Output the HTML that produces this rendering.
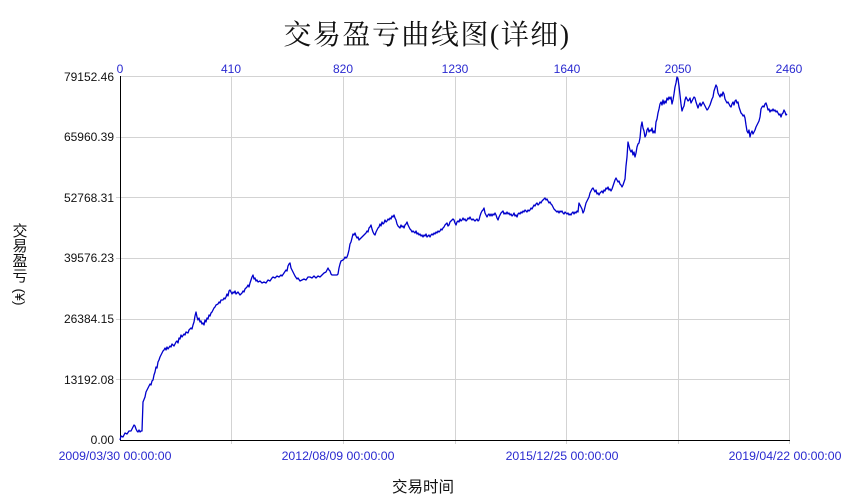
<!DOCTYPE html>
<html><head><meta charset="utf-8"><style>
html,body{margin:0;padding:0;background:#fff;}
body{width:850px;height:500px;position:relative;overflow:hidden;font-family:"Liberation Sans","Noto Sans CJK SC",sans-serif;}
.t{position:absolute;white-space:nowrap;}
.yl{font-size:12px;color:#111;text-align:right;width:80px;left:34px;line-height:14px;}
.tl{font-size:12px;color:#2a2ad0;width:60px;text-align:center;line-height:14px;top:62px;}
.bl{font-size:12.3px;color:#2a2ad0;width:140px;text-align:center;line-height:14px;top:449px;}
.yc{position:absolute;left:12px;width:16px;text-align:center;font-size:15px;line-height:15px;color:#111;font-family:"Noto Sans CJK SC",sans-serif;}
</style></head><body>
<div class="t" style="left:0;width:850px;top:16px;text-align:center;font-family:'Liberation Serif','Noto Serif CJK SC',serif;font-size:28px;letter-spacing:1.5px;line-height:40px;color:#111;padding-left:2px;">交易盈亏曲线图(详细)</div>

<svg width="850" height="500" style="position:absolute;left:0;top:0" xmlns="http://www.w3.org/2000/svg">
<g stroke="#d3d3d3" stroke-width="1" shape-rendering="crispEdges">
<line x1="120" y1="76.5" x2="790" y2="76.5"/>
<line x1="116" y1="137.5" x2="790" y2="137.5"/>
<line x1="116" y1="197.5" x2="790" y2="197.5"/>
<line x1="116" y1="258.5" x2="790" y2="258.5"/>
<line x1="116" y1="319.5" x2="790" y2="319.5"/>
<line x1="116" y1="379.5" x2="790" y2="379.5"/>
<line x1="231.5" y1="76" x2="231.5" y2="444"/>
<line x1="343.5" y1="76" x2="343.5" y2="444"/>
<line x1="455.5" y1="76" x2="455.5" y2="444"/>
<line x1="566.5" y1="76" x2="566.5" y2="444"/>
<line x1="678.5" y1="76" x2="678.5" y2="444"/>
<line x1="789.5" y1="76" x2="789.5" y2="444"/>
</g>
<g stroke="#000" stroke-width="1.3" shape-rendering="crispEdges">
<line x1="120.5" y1="76" x2="120.5" y2="441"/>
<line x1="120" y1="440.5" x2="790" y2="440.5"/>
</g>
<polyline fill="none" stroke="#0000cc" stroke-width="1.3" stroke-linejoin="round" points="120,440 121,436 123,437 125,433 127,434 129,431 131,431 133,427 134,425 135,426 136,429 137,431 138,432 139,430 140,432 141,431 142,431 143,402 145,397 146,392 148,388 150,384 151,385 152,381 153,380 154,375 155,372 156,367 157,368 158,362 159,360 160,357 161,355 162,353 163,351 164,350 165,348 166,350 167,347 168,349 170,346 171,347 172,344 174,346 176,342 177,341 178,343 179,338 180,339 181,335 182,337 184,334 185,335 186,332 188,333 189,330 191,328 192,329 193,325 194,322 195,316 196,312 197,317 198,320 199,318 200,322 201,321 202,324 203,323 204,325 205,320 206,322 207,318 208,319 209,315 210,316 211,313 212,312 213,310 214,308 215,307 216,305 218,304 219,302 220,303 221,300 223,300 224,298 225,299 226,297 227,294 228,296 229,291 230,290 231,292 232,294 233,292 234,293 235,291 236,294 238,292 240,295 242,293 243,291 244,292 245,289 246,288 247,287 248,285 249,287 250,283 251,280 252,277 253,275 254,279 255,278 256,281 257,280 258,282 260,281 262,283 264,282 266,283 268,280 270,281 272,278 273,277 275,278 277,276 279,277 281,275 282,276 284,273 286,270 287,271 288,266 289,264 290,263 291,268 292,270 293,272 295,276 297,279 298,278 300,281 302,280 304,279 306,280 308,277 310,277 312,278 314,276 316,278 318,276 320,277 322,275 324,273 326,272 328,268 329,270 330,271 331,274 332,275 333,275 335,275 337,275 338,274 339,268 340,264 341,261 343,260 344,259 345,257 346,258 347,257 348,254 349,250 350,244 351,242 352,238 353,234 354,235 355,233 356,236 357,238 358,237 359,240 360,239 361,238 362,237 363,236 364,235 365,234 366,233 367,231 368,232 369,228 370,227 371,225 372,229 373,232 374,234 375,235 376,232 377,230 378,228 379,227 380,224 381,226 382,222 383,224 384,223 385,220 386,222 387,221 388,219 389,220 390,218 391,219 392,216 393,217 394,215 395,218 396,220 397,224 398,226 399,227 400,228 401,225 402,227 403,226 404,228 405,225 406,224 407,222 408,225 409,227 410,229 411,230 412,232 413,231 414,232 415,233 416,231 417,234 418,233 419,235 420,234 421,236 422,235 423,237 424,235 425,236 426,234 427,237 428,236 429,235 430,237 431,235 432,234 433,235 434,233 435,234 436,232 437,233 438,231 439,232 440,231 441,229 442,230 443,228 444,227 445,225 446,224 447,223 448,226 449,225 450,222 451,221 452,220 453,219 454,220 455,223 456,225 457,222 458,221 459,222 460,219 461,221 462,220 463,218 464,220 465,219 466,221 467,220 468,218 469,219 470,217 471,219 472,220 473,219 474,220 475,221 476,220 477,219 478,221 479,220 480,216 481,213 482,211 483,210 484,208 485,213 486,215 487,217 488,215 489,214 490,216 491,214 492,216 493,214 494,215 495,213 496,215 497,218 498,220 499,217 500,215 501,213 502,212 503,211 504,214 505,213 506,214 507,212 508,214 509,213 510,215 511,214 512,216 513,215 514,213 515,216 516,215 517,217 518,214 519,213 520,214 521,212 522,213 523,211 524,212 525,210 526,211 527,212 528,210 529,211 530,210 531,208 532,209 533,207 534,205 535,206 536,204 537,203 538,205 539,204 540,202 541,203 542,201 543,200 544,199 545,198 546,200 547,199 548,201 549,203 550,202 551,204 552,205 553,207 554,209 555,210 556,211 557,212 558,211 559,213 560,211 561,212 562,211 563,213 564,214 565,212 566,213 567,214 568,213 569,215 570,214 571,215 572,213 573,212 574,214 575,212 576,213 577,211 578,212 579,203 580,205 581,207 582,209 583,213 584,211 585,207 586,203 587,201 588,199 589,197 590,193 591,191 592,189 593,188 594,190 595,192 596,190 597,194 598,193 599,195 600,193 601,192 602,191 603,193 604,190 605,191 606,188 607,189 608,187 609,190 610,189 611,191 612,189 613,186 614,183 615,180 616,178 617,180 618,182 619,181 620,184 621,185 622,187 623,185 624,182 625,179 626,166 627,157 628,142 629,146 630,150 631,152 632,150 633,155 634,152 635,157 636,153 637,147 638,144 639,143 640,138 641,127 642,122 643,128 644,131 645,137 646,135 647,130 648,128 649,132 650,130 651,131 652,128 653,133 654,131 655,133 656,122 657,119 658,113 659,109 660,104 661,102 662,105 663,100 664,104 665,101 666,103 667,98 668,100 669,97 670,99 671,97 672,104 673,100 674,94 675,87 676,83 677,77 678,79 679,86 680,95 681,104 682,111 683,108 684,106 685,100 686,97 687,99 688,101 689,100 690,98 691,103 692,101 693,99 694,97 695,98 696,102 697,105 698,108 699,105 700,103 701,106 702,104 703,102 704,104 705,106 706,108 707,110 708,109 709,107 710,105 711,102 712,99 713,97 714,91 715,88 716,85 717,87 718,93 719,95 720,97 721,94 722,96 723,92 724,94 725,99 726,101 727,103 728,102 729,104 730,106 731,107 732,104 733,102 734,105 735,101 736,100 737,103 738,102 739,107 740,110 741,113 742,114 743,116 744,115 745,118 746,125 747,131 748,133 749,130 750,137 751,133 752,131 753,134 754,132 755,130 756,127 757,125 758,123 759,121 760,117 761,109 762,107 763,106 764,107 765,104 766,103 767,106 768,110 769,109 770,112 771,110 772,111 773,109 774,111 775,110 776,112 777,111 778,113 779,115 780,114 781,117 782,114 783,113 784,110 785,112 786,115 787,114"/>
</svg>

<div class="t yl" style="top:70px;">79152.46</div>
<div class="t yl" style="top:130px;">65960.39</div>
<div class="t yl" style="top:191px;">52768.31</div>
<div class="t yl" style="top:251px;">39576.23</div>
<div class="t yl" style="top:312px;">26384.15</div>
<div class="t yl" style="top:373px;">13192.08</div>
<div class="t yl" style="top:433px;">0.00</div>

<div class="t tl" style="left:90px;">0</div>
<div class="t tl" style="left:201px;">410</div>
<div class="t tl" style="left:313px;">820</div>
<div class="t tl" style="left:425px;">1230</div>
<div class="t tl" style="left:537px;">1640</div>
<div class="t tl" style="left:648px;">2050</div>
<div class="t tl" style="left:759px;">2460</div>

<div class="t bl" style="left:45px;">2009/03/30 00:00:00</div>
<div class="t bl" style="left:268px;">2012/08/09 00:00:00</div>
<div class="t bl" style="left:492px;">2015/12/25 00:00:00</div>
<div class="t bl" style="left:715px;">2019/04/22 00:00:00</div>

<div class="t" style="left:373px;width:100px;text-align:center;top:478px;font-size:15.5px;line-height:20px;color:#111;font-family:'Liberation Sans','Noto Sans CJK SC',sans-serif;">交易时间</div>

<div class="yc" style="top:223px;">交</div>
<div class="yc" style="top:238px;">易</div>
<div class="yc" style="top:253px;">盈</div>
<div class="yc" style="top:268px;">亏</div>
<div class="t" style="left:20px;top:297px;width:0;height:0;">
  <div style="position:absolute;left:-14px;top:-8px;width:28px;height:16px;line-height:16px;text-align:center;transform:rotate(90deg);font-size:14px;color:#111;font-family:'Liberation Sans',sans-serif;">(¥)</div>
</div>
</body></html>
